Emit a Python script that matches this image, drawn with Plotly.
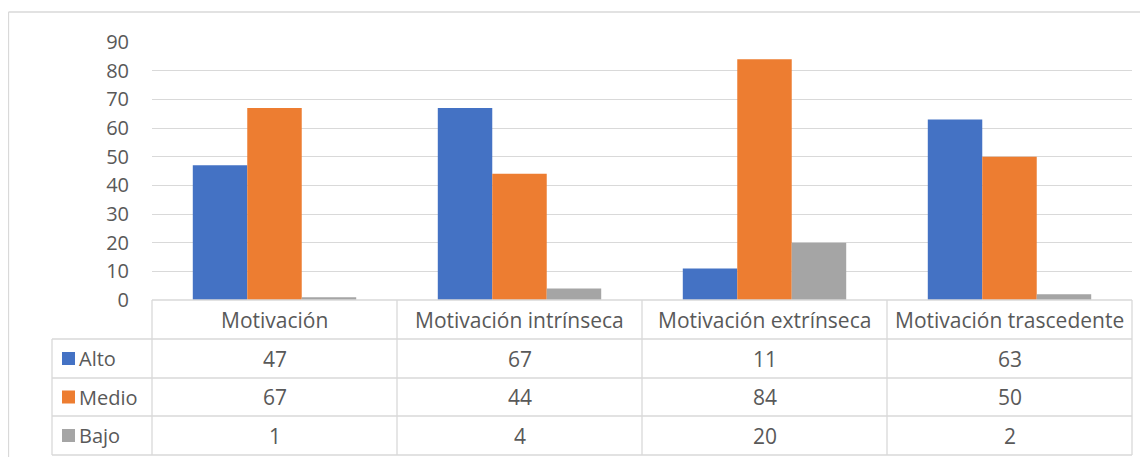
import plotly.graph_objects as go

categories = ["Motivación", "Motivación intrínseca", "Motivación extrínseca", "Motivación trascedente"]
series_names = ["Alto", "Medio", "Bajo"]
alto = [47, 67, 11, 63]
medio = [67, 44, 84, 50]
bajo = [1, 4, 20, 2]
colors = ["#4472C4", "#ED7D31", "#A5A5A5"]
y_ticks = [0, 10, 20, 30, 40, 50, 60, 70, 80, 90]

OFF = 8  # page body margin
W, H = 1148 - OFF, 457 - OFF
PX0, PX1 = 152 - OFF, 1132 - OFF   # plot area left/right in figure px
PY0, PY1 = 300 - OFF, 42 - OFF     # plot area bottom/top in figure px

def px(x):
    return (x - OFF - PX0) / (PX1 - PX0)

def py(y):
    return (PY0 - (y - OFF)) / (PY0 - PY1)

fig = go.Figure()
for name, vals, col in zip(series_names, [alto, medio, bajo], colors):
    fig.add_trace(go.Bar(x=categories, y=vals, name=name, marker_color=col,
                         marker_line_width=0, showlegend=False))

grid = "#d9d9d9"
font = "Open Sans"
txt = "#595959"
fs = 21

shapes = []
def line(x0, y0, x1, y1, w=1.3):
    shapes.append(dict(type="line", xref="paper", yref="paper",
                       x0=px(x0), y0=py(y0), x1=px(x1), y1=py(y1),
                       line=dict(color=grid, width=w)))

# reference-pixel coordinates of the table
T_L, T_X0, T_X1 = 52, 152, 1132
row_y = [300, 339, 378, 416, 455]
line(T_X0, 300, T_X1, 300)
for yy in row_y[1:]:
    line(T_L, yy, T_X1, yy)
line(T_L, 339, T_L, 455)
n = len(categories)
cw = (T_X1 - T_X0) / n
for i in range(n + 1):
    line(T_X0 + i * cw, 300, T_X0 + i * cw, 455)
# outer chart border
line(8.5, 12, 1170, 12)
line(8.5, 12, 8.5, 480)

annotations = []
for i, c in enumerate(categories):
    annotations.append(dict(xref="paper", yref="paper", x=px(T_X0 + (i + 0.5) * cw),
                            y=py((row_y[0] + row_y[1]) / 2), text=c, showarrow=False,
                            font=dict(family=font, size=fs, color=txt),
                            xanchor="center", yanchor="middle"))
for r, (name, vals, col) in enumerate(zip(series_names, [alto, medio, bajo], colors)):
    ymid = (row_y[r + 1] + row_y[r + 2]) / 2
    yc = py(ymid)
    for i, v in enumerate(vals):
        annotations.append(dict(xref="paper", yref="paper", x=px(T_X0 + (i + 0.5) * cw),
                                y=yc, text=str(v), showarrow=False,
                                font=dict(family=font, size=fs, color=txt),
                                xanchor="center", yanchor="middle"))
    annotations.append(dict(xref="paper", yref="paper", x=px(77), y=yc,
                            text=name, showarrow=False,
                            font=dict(family=font, size=fs - 1, color=txt),
                            xanchor="left", yanchor="middle"))
    shapes.append(dict(type="rect", xref="paper", yref="paper",
                       x0=px(62), x1=px(75), y0=py(ymid + 6.5), y1=py(ymid - 6.5),
                       fillcolor=col, line=dict(width=0)))

fig.update_layout(
    width=W, height=H,
    margin=dict(l=PX0, r=W - PX1, t=PY1, b=H - PY0, pad=0),
    paper_bgcolor="white", plot_bgcolor="white",
    barmode="group", bargap=0.333, bargroupgap=0,
    shapes=shapes, annotations=annotations,
    xaxis=dict(showticklabels=False, showgrid=False, zeroline=False, showline=False,
               ticks=""),
    yaxis=dict(range=[0, 90], tickvals=y_ticks, showgrid=True, gridcolor=grid,
               gridwidth=1.3, zeroline=False, showline=False, ticks="",
               tickfont=dict(family=font, size=fs - 1, color=txt), ticklabelstandoff=22),
)

fig.write_html("out.html")
